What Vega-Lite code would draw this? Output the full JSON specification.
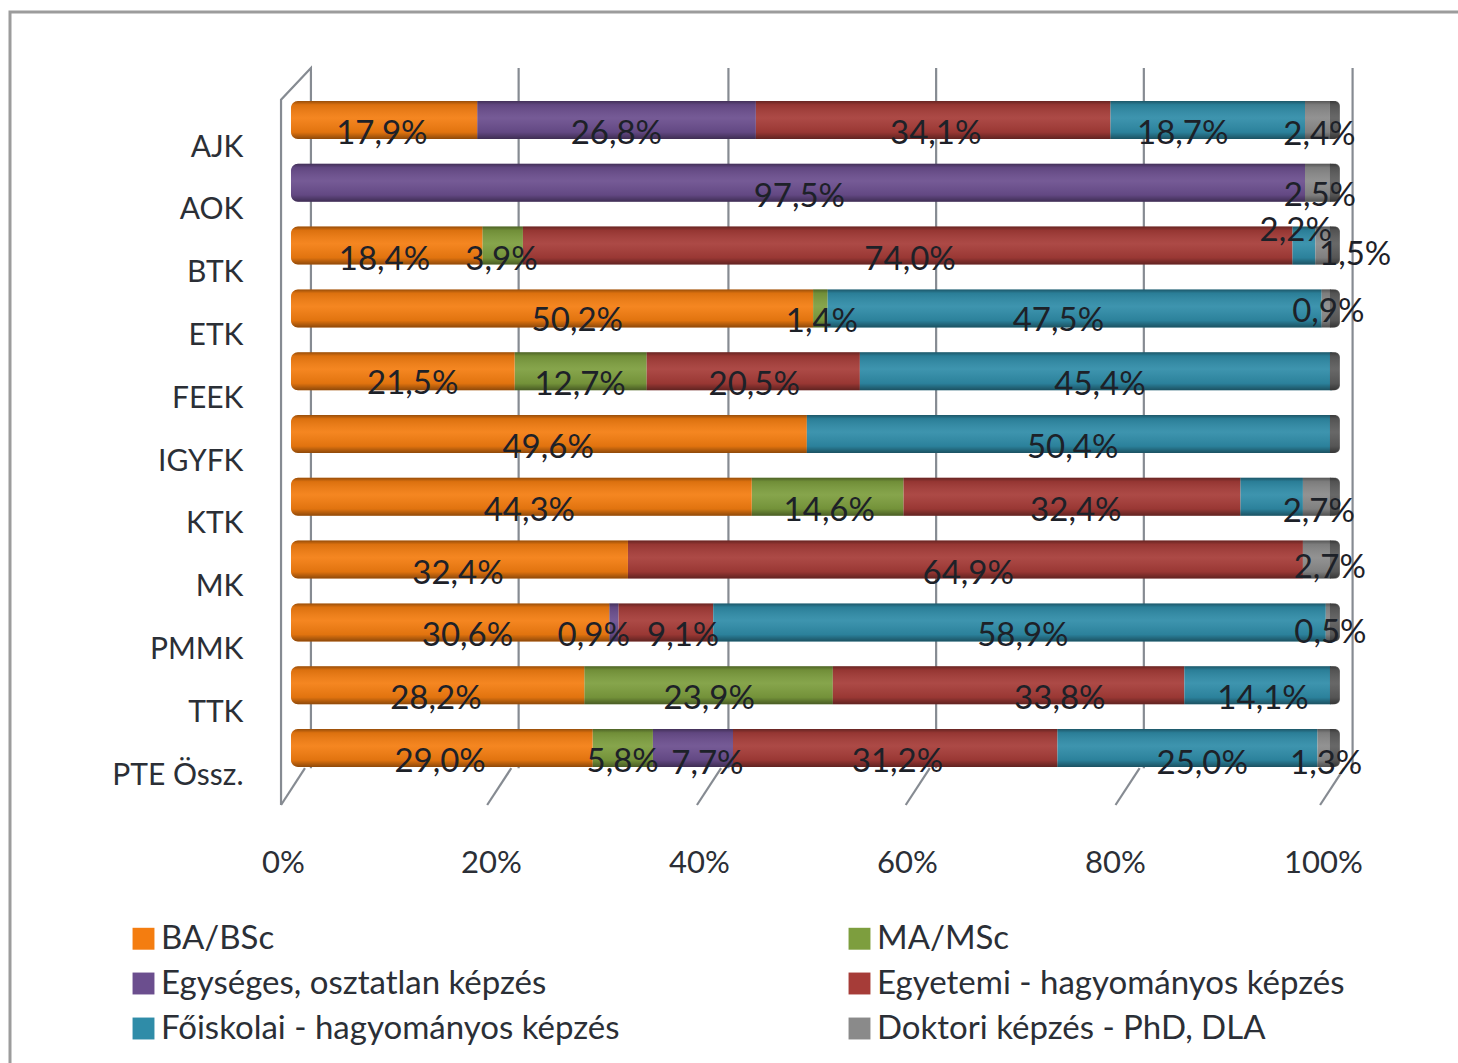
{"$schema":"https://vega.github.io/schema/vega-lite/v6.json","width":1460,"height":1060,"autosize":"none","padding":{"left":10,"top":12,"right":0,"bottom":0},"background":"white",
"config":{"view":{"stroke":"#9c9c9c","strokeWidth":3},"font":"Lato","axisX":{"domain":false,"ticks":false,"grid":false,"offset":-224,"labelPadding":0,"labelOffset":-8,"labelFontSize":31,"labelColor":"#2b2f36","labelFont":"Lato","tickCount":5,"labelFlush":false,"labelOverlap":false,"labelExpr":"datum.value+'%'"},"axisY":{"domain":false,"ticks":false,"grid":false}},
"datasets":{"cats":[{"cat":"AJK"},{"cat":"AOK"},{"cat":"BTK"},{"cat":"ETK"},{"cat":"FEEK"},{"cat":"IGYFK"},{"cat":"KTK"},{"cat":"MK"},{"cat":"PMMK"},{"cat":"TTK"},{"cat":"PTE Össz."}],
"lines":[{"line":"wall","s":1,"pos":-0.95,"depth":0},{"line":"wall","s":2,"pos":-0.95,"depth":95.7},{"line":"wall","s":3,"pos":1.9,"depth":100},{"line":"wall","s":4,"pos":1.9,"depth":5},
{"line":"d0","s":1,"pos":-0.95,"depth":0},{"line":"d0","s":2,"pos":1.33,"depth":5},
{"line":"g20","s":1,"pos":21.7,"depth":100},{"line":"g20","s":2,"pos":21.7,"depth":5},{"line":"d20","s":1,"pos":18.7,"depth":0},{"line":"d20","s":2,"pos":21.0,"depth":5},
{"line":"g40","s":1,"pos":41.7,"depth":100},{"line":"g40","s":2,"pos":41.7,"depth":5},{"line":"d40","s":1,"pos":38.7,"depth":0},{"line":"d40","s":2,"pos":41.0,"depth":5},
{"line":"g60","s":1,"pos":61.5,"depth":100},{"line":"g60","s":2,"pos":61.5,"depth":5},{"line":"d60","s":1,"pos":58.6,"depth":0},{"line":"d60","s":2,"pos":60.9,"depth":5},
{"line":"g80","s":1,"pos":81.3,"depth":100},{"line":"g80","s":2,"pos":81.3,"depth":5},{"line":"d80","s":1,"pos":78.6,"depth":0},{"line":"d80","s":2,"pos":80.9,"depth":5},
{"line":"g100","s":1,"pos":101.2,"depth":100},{"line":"g100","s":2,"pos":101.2,"depth":5},{"line":"d100","s":1,"pos":98.1,"depth":0},{"line":"d100","s":2,"pos":100.4,"depth":5}]},
"data":{"values":[
{"cat":"AJK","s":"BA/BSc","o":1,"v":17.9,"label":"17,9%"},{"cat":"AJK","s":"Egységes, osztatlan képzés","o":3,"v":26.8,"label":"26,8%"},{"cat":"AJK","s":"Egyetemi - hagyományos képzés","o":4,"v":34.1,"label":"34,1%"},{"cat":"AJK","s":"Főiskolai - hagyományos képzés","o":5,"v":18.7,"label":"18,7%"},{"cat":"AJK","s":"Doktori képzés - PhD, DLA","o":6,"v":2.4,"label":"2,4%"},
{"cat":"AOK","s":"Egységes, osztatlan képzés","o":3,"v":97.5,"label":"97,5%"},{"cat":"AOK","s":"Doktori képzés - PhD, DLA","o":6,"v":2.5,"label":"2,5%"},
{"cat":"BTK","s":"BA/BSc","o":1,"v":18.4,"label":"18,4%"},{"cat":"BTK","s":"MA/MSc","o":2,"v":3.9,"label":"3,9%"},{"cat":"BTK","s":"Egyetemi - hagyományos képzés","o":4,"v":74.0,"label":"74,0%"},{"cat":"BTK","s":"Főiskolai - hagyományos képzés","o":5,"v":2.2,"label":"2,2%"},{"cat":"BTK","s":"Doktori képzés - PhD, DLA","o":6,"v":1.5,"label":"1,5%"},
{"cat":"ETK","s":"BA/BSc","o":1,"v":50.2,"label":"50,2%"},{"cat":"ETK","s":"MA/MSc","o":2,"v":1.4,"label":"1,4%"},{"cat":"ETK","s":"Főiskolai - hagyományos képzés","o":5,"v":47.5,"label":"47,5%"},{"cat":"ETK","s":"Doktori képzés - PhD, DLA","o":6,"v":0.9,"label":"0,9%"},
{"cat":"FEEK","s":"BA/BSc","o":1,"v":21.5,"label":"21,5%"},{"cat":"FEEK","s":"MA/MSc","o":2,"v":12.7,"label":"12,7%"},{"cat":"FEEK","s":"Egyetemi - hagyományos képzés","o":4,"v":20.5,"label":"20,5%"},{"cat":"FEEK","s":"Főiskolai - hagyományos képzés","o":5,"v":45.4,"label":"45,4%"},
{"cat":"IGYFK","s":"BA/BSc","o":1,"v":49.6,"label":"49,6%"},{"cat":"IGYFK","s":"Főiskolai - hagyományos képzés","o":5,"v":50.4,"label":"50,4%"},
{"cat":"KTK","s":"BA/BSc","o":1,"v":44.3,"label":"44,3%"},{"cat":"KTK","s":"MA/MSc","o":2,"v":14.6,"label":"14,6%"},{"cat":"KTK","s":"Egyetemi - hagyományos képzés","o":4,"v":32.4,"label":"32,4%"},{"cat":"KTK","s":"Főiskolai - hagyományos képzés","o":5,"v":6.0,"label":""},{"cat":"KTK","s":"Doktori képzés - PhD, DLA","o":6,"v":2.7,"label":"2,7%"},
{"cat":"MK","s":"BA/BSc","o":1,"v":32.4,"label":"32,4%"},{"cat":"MK","s":"Egyetemi - hagyományos képzés","o":4,"v":64.9,"label":"64,9%"},{"cat":"MK","s":"Doktori képzés - PhD, DLA","o":6,"v":2.7,"label":"2,7%"},
{"cat":"PMMK","s":"BA/BSc","o":1,"v":30.6,"label":"30,6%"},{"cat":"PMMK","s":"Egységes, osztatlan képzés","o":3,"v":0.9,"label":"0,9%"},{"cat":"PMMK","s":"Egyetemi - hagyományos képzés","o":4,"v":9.1,"label":"9,1%"},{"cat":"PMMK","s":"Főiskolai - hagyományos képzés","o":5,"v":58.9,"label":"58,9%"},{"cat":"PMMK","s":"Doktori képzés - PhD, DLA","o":6,"v":0.5,"label":"0,5%"},
{"cat":"TTK","s":"BA/BSc","o":1,"v":28.2,"label":"28,2%"},{"cat":"TTK","s":"MA/MSc","o":2,"v":23.9,"label":"23,9%"},{"cat":"TTK","s":"Egyetemi - hagyományos képzés","o":4,"v":33.8,"label":"33,8%"},{"cat":"TTK","s":"Főiskolai - hagyományos képzés","o":5,"v":14.1,"label":"14,1%"},
{"cat":"PTE Össz.","s":"BA/BSc","o":1,"v":29.0,"label":"29,0%"},{"cat":"PTE Össz.","s":"MA/MSc","o":2,"v":5.8,"label":"5,8%"},{"cat":"PTE Össz.","s":"Egységes, osztatlan képzés","o":3,"v":7.7,"label":"7,7%"},{"cat":"PTE Össz.","s":"Egyetemi - hagyományos képzés","o":4,"v":31.2,"label":"31,2%"},{"cat":"PTE Össz.","s":"Főiskolai - hagyományos képzés","o":5,"v":25.0,"label":"25,0%"},{"cat":"PTE Össz.","s":"Doktori képzés - PhD, DLA","o":6,"v":1.3,"label":"1,3%"}
]},
"transform":[{"stack":"v","groupby":["cat"],"sort":[{"field":"o","order":"ascending"}],"as":["x0","x1"]},{"calculate":"(datum.x0+datum.x1)/2","as":"mid"}],
"resolve":{"scale":{"x":"independent","y":"independent"},"axis":{"x":"independent","y":"independent"}},
"layer":[
{"data":{"name":"lines"},"mark":{"type":"line","color":"#868b92","strokeWidth":2.2},"encoding":{"x":{"field":"pos","type":"quantitative","axis":null,"scale":{"domain":[0,100],"range":[281,1330]}},"y":{"field":"depth","type":"quantitative","axis":null,"scale":{"domain":[0,100],"range":[793,56],"nice":false}},"detail":{"field":"line"},"order":{"field":"s"}}},
{"encoding":{"x":{"field":"x0","type":"quantitative","title":null,"scale":{"domain":[0,100],"range":[281,1321]}},"x2":{"field":"x1"},"y":{"field":"cat","type":"nominal","title":null,"axis":{"offset":-233,"labelPadding":0,"labelOffset":27.5,"labelFontSize":30,"labelColor":"#2b2f36","labelFont":"Lato"},"scale":{"domain":["AJK","AOK","BTK","ETK","FEEK","IGYFK","KTK","MK","PMMK","TTK","PTE Össz."],"range":[76.6,767.4],"paddingInner":0.395,"paddingOuter":0.1975}}},
"layer":[
{"transform":[{"filter":"datum.x0>0 && datum.x1<99.8"}],"mark":{"type":"bar"},"encoding":{"color":{"field":"s","type":"nominal","title":null,"scale":{"domain":["BA/BSc","Egységes, osztatlan képzés","Főiskolai - hagyományos képzés","MA/MSc","Egyetemi - hagyományos képzés","Doktori képzés - PhD, DLA"],"range":["#F47D10","#6B4E8E","#2F8CA8","#7D9E3E","#A63C38","#8A8A8A"]},"legend":{"orient":"none","legendX":117,"legendY":910,"columns":2,"symbolType":"square","symbolSize":480,"symbolStrokeWidth":0,"labelFontSize":33,"labelFont":"Lato","labelColor":"#2b2f36","rowPadding":11,"columnPadding":223,"labelOffset":1,"labelLimit":700,"gridAlign":"each"}}}},
{"transform":[{"filter":"datum.x0==0"}],"mark":{"type":"bar","cornerRadiusTopLeft":7,"cornerRadiusBottomLeft":7},"encoding":{"color":{"field":"s","type":"nominal","title":null,"legend":null}}},
{"transform":[{"filter":"datum.x1>=99.8"}],"mark":{"type":"bar"},"encoding":{"color":{"field":"s","type":"nominal","title":null,"legend":null}}}
]},
{"data":{"name":"cats"},"mark":{"type":"bar","cornerRadiusTopRight":7,"cornerRadiusBottomRight":7,"color":"#5c5c5c"},"encoding":{"x":{"datum":99.9,"type":"quantitative","axis":null,"scale":{"domain":[0,100],"range":[281,1321]}},"x2":{"datum":100.85},"y":{"field":"cat","type":"nominal","axis":null,"scale":{"domain":["AJK","AOK","BTK","ETK","FEEK","IGYFK","KTK","MK","PMMK","TTK","PTE Össz."],"range":[76.6,767.4],"paddingInner":0.395,"paddingOuter":0.1975}}}},
{"data":{"name":"cats"},"mark":{"type":"bar","cornerRadius":7,"color":{"gradient":"linear","x1":0,"y1":0,"x2":0,"y2":1,"stops":[{"offset":0,"color":"rgba(0,0,0,0.38)"},{"offset":0.1,"color":"rgba(0,0,0,0.1)"},{"offset":0.45,"color":"rgba(255,255,255,0.07)"},{"offset":0.82,"color":"rgba(0,0,0,0.08)"},{"offset":1,"color":"rgba(0,0,0,0.42)"}]}},"encoding":{"x":{"datum":0,"type":"quantitative","axis":null,"scale":{"domain":[0,100],"range":[281,1321]}},"x2":{"datum":100.85},"y":{"field":"cat","type":"nominal","axis":null,"scale":{"domain":["AJK","AOK","BTK","ETK","FEEK","IGYFK","KTK","MK","PMMK","TTK","PTE Össz."],"range":[76.6,767.4],"paddingInner":0.395,"paddingOuter":0.1975}}}},
{"encoding":{"x":{"field":"mid","type":"quantitative","axis":null,"scale":{"domain":[0,100],"range":[281,1330]}},"y":{"field":"cat","type":"nominal","axis":null,"scale":{"domain":["AJK","AOK","BTK","ETK","FEEK","IGYFK","KTK","MK","PMMK","TTK","PTE Össz."],"range":[76.6,767.4],"paddingInner":0.395,"paddingOuter":0.1975}},"text":{"field":"label"}},
"layer":[
{"transform":[{"filter":"datum.label!=='' && !((datum.cat==='AJK'&&datum.o>=5)||(datum.cat==='AOK'&&datum.o==6)||(datum.cat==='BTK'&&datum.o>=5)||(datum.cat==='ETK'&&(datum.o>=5||datum.o==1))||(datum.cat==='FEEK'&&datum.o==1)||(datum.cat==='KTK'&&(datum.o==6||datum.o==1))||(datum.cat==='MK'&&datum.o==6)||(datum.cat==='PMMK'&&datum.o!=5)||(datum.cat==='TTK'&&datum.o==4)||(datum.cat==='PTE Össz.'&&(datum.o==3||datum.o>=5)))"}],"mark":{"type":"text","font":"Lato","fontSize":33,"color":"#1d2128","dx":-3,"dy":14}},
{"transform":[{"filter":"(datum.cat==='AJK'&&datum.o==6)||(datum.cat==='KTK'&&datum.o==6)"}],"mark":{"type":"text","font":"Lato","fontSize":33,"color":"#1d2128","dx":-7,"dy":15}},
{"transform":[{"filter":"datum.cat==='AOK'&&datum.o==6"}],"mark":{"type":"text","font":"Lato","fontSize":33,"color":"#1d2128","dx":-7,"dy":13}},
{"transform":[{"filter":"datum.cat==='AJK'&&datum.o==5"}],"mark":{"type":"text","font":"Lato","fontSize":33,"color":"#1d2128","dx":-33,"dy":14}},
{"transform":[{"filter":"datum.cat==='ETK'&&datum.o==5"}],"mark":{"type":"text","font":"Lato","fontSize":33,"color":"#1d2128","dx":-23,"dy":13}},
{"transform":[{"filter":"datum.cat==='BTK'&&datum.o==5"}],"mark":{"type":"text","font":"Lato","fontSize":33,"color":"#1d2128","dx":-17,"dy":-15}},
{"transform":[{"filter":"datum.cat==='BTK'&&datum.o==6"}],"mark":{"type":"text","font":"Lato","fontSize":33,"color":"#1d2128","dx":23,"dy":9}},
{"transform":[{"filter":"datum.cat==='ETK'&&datum.o==6"}],"mark":{"type":"text","font":"Lato","fontSize":33,"color":"#1d2128","dx":-7,"dy":4}},
{"transform":[{"filter":"datum.cat==='ETK'&&datum.o==1"}],"mark":{"type":"text","font":"Lato","fontSize":33,"color":"#1d2128","dx":23,"dy":13}},
{"transform":[{"filter":"datum.cat==='FEEK'&&datum.o==1"}],"mark":{"type":"text","font":"Lato","fontSize":33,"color":"#1d2128","dx":9,"dy":13}},
{"transform":[{"filter":"datum.cat==='KTK'&&datum.o==1"}],"mark":{"type":"text","font":"Lato","fontSize":33,"color":"#1d2128","dx":6,"dy":14}},
{"transform":[{"filter":"datum.cat==='MK'&&datum.o==6"}],"mark":{"type":"text","font":"Lato","fontSize":33,"color":"#1d2128","dx":4,"dy":8}},
{"transform":[{"filter":"datum.cat==='PMMK'&&datum.o==1"}],"mark":{"type":"text","font":"Lato","fontSize":33,"color":"#1d2128","dx":16,"dy":14}},
{"transform":[{"filter":"datum.cat==='PMMK'&&datum.o==3"}],"mark":{"type":"text","font":"Lato","fontSize":33,"color":"#1d2128","dx":-23,"dy":14}},
{"transform":[{"filter":"datum.cat==='PMMK'&&datum.o==4"}],"mark":{"type":"text","font":"Lato","fontSize":33,"color":"#1d2128","dx":14,"dy":14}},
{"transform":[{"filter":"datum.cat==='PMMK'&&datum.o==6"}],"mark":{"type":"text","font":"Lato","fontSize":33,"color":"#1d2128","dx":-7,"dy":11}},
{"transform":[{"filter":"datum.cat==='TTK'&&datum.o==4"}],"mark":{"type":"text","font":"Lato","fontSize":33,"color":"#1d2128","dx":45,"dy":14}},
{"transform":[{"filter":"datum.cat==='PTE Össz.'&&datum.o==3"}],"mark":{"type":"text","font":"Lato","fontSize":33,"color":"#1d2128","dx":11,"dy":16}},
{"transform":[{"filter":"datum.cat==='PTE Össz.'&&datum.o==5"}],"mark":{"type":"text","font":"Lato","fontSize":33,"color":"#1d2128","dx":7,"dy":16}},
{"transform":[{"filter":"datum.cat==='PTE Össz.'&&datum.o==6"}],"mark":{"type":"text","font":"Lato","fontSize":33,"color":"#1d2128","dx":-7,"dy":16}}
]}
]}
